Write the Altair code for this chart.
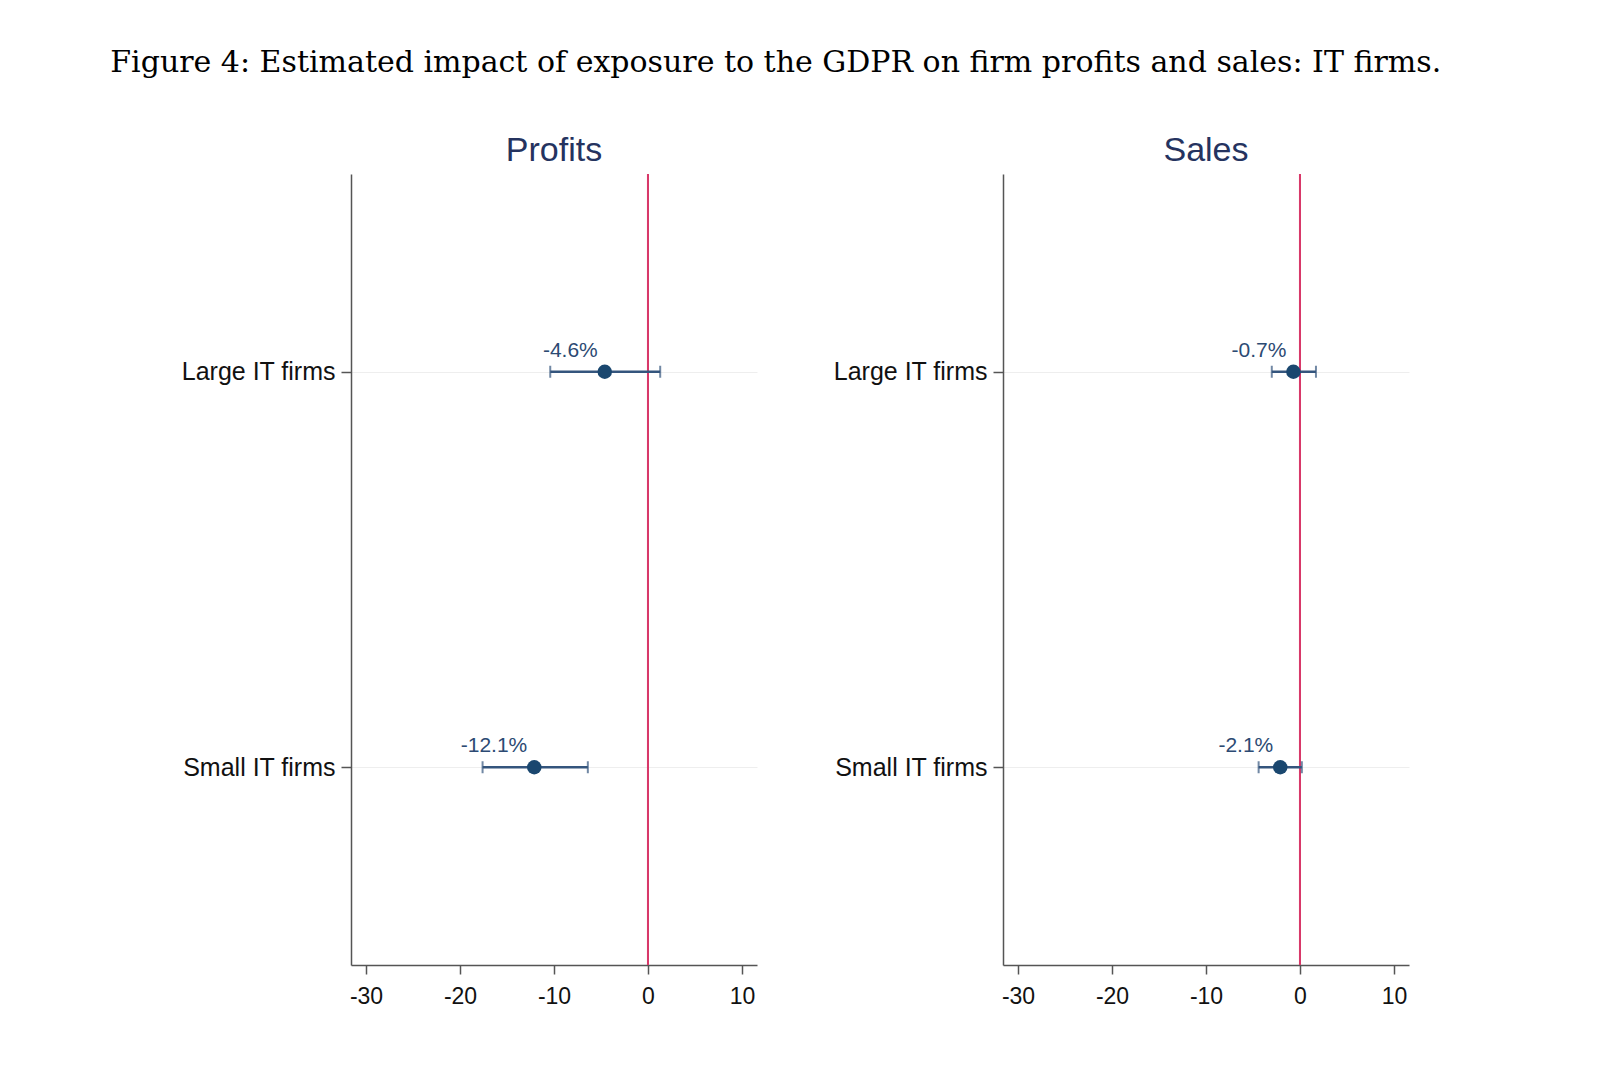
import altair as alt
import pandas as pd

caption = "Figure 4: Estimated impact of exposure to the GDPR on firm profits and sales: IT firms."
panels = ["Profits", "Profits", "Sales", "Sales"]
groups = ["Large IT firms", "Small IT firms", "Large IT firms", "Small IT firms"]
estimates = [-4.6, -12.1, -0.7, -2.1]
lower = [-10.4, -17.6, -3.0, -4.4]
upper = [1.3, -6.4, 1.7, 0.2]
labels = ["-4.6%", "-12.1%", "-0.7%", "-2.1%"]
x_ticks = [-30, -20, -10, 0, 10]
x_domain = [-31.6, 11.6]
group_order = ["Large IT firms", "Small IT firms"]

df = pd.DataFrame(dict(panel=panels, group=groups, est=estimates, lo=lower,
                       hi=upper, label=labels))

NAVY = "#1a476f"
BAR = "#34557d"
RED = "#d8396a"


def panel(name):
    d = df[df.panel == name]
    base = alt.Chart(d)
    xs = alt.Scale(domain=x_domain, nice=False, zero=False)
    ys = alt.Scale(type="point", padding=0.5, domain=group_order)
    xax = alt.Axis(values=x_ticks, title=None, grid=False,
                   labelExpr="'' + datum.value")
    yax = alt.Axis(title=None, grid=True)
    zero = base.mark_rule(color=RED, strokeWidth=2).encode(x=alt.datum(0, scale=xs))
    bars = base.mark_rule(color=BAR, strokeWidth=2.5).encode(
        x=alt.X("lo:Q", scale=xs, axis=xax), x2="hi:Q",
        y=alt.Y("group:N", scale=ys, axis=yax))
    cap_lo = base.mark_tick(color=BAR, thickness=2, size=12).encode(
        x=alt.X("lo:Q", scale=xs), y=alt.Y("group:N", scale=ys))
    cap_hi = base.mark_tick(color=BAR, thickness=2, size=12).encode(
        x=alt.X("hi:Q", scale=xs), y=alt.Y("group:N", scale=ys))
    pts = base.mark_circle(color=NAVY, size=210, opacity=1).encode(
        x=alt.X("est:Q", scale=xs), y=alt.Y("group:N", scale=ys))
    txt = base.mark_text(align="right", baseline="alphabetic", dx=-7, dy=-15,
                         fontSize=21, font="Liberation Sans", color="#2c4a73").encode(
        x=alt.X("est:Q", scale=xs), y=alt.Y("group:N", scale=ys), text="label:N")
    return alt.layer(zero, bars, cap_lo, cap_hi, pts, txt).properties(
        width=406, height=791,
        title=alt.TitleParams(name, fontSize=34, font="Liberation Sans",
                              color="#25335f", fontWeight="normal", offset=5))


chart = alt.hconcat(panel("Profits"), panel("Sales"), spacing=74).properties(
    title=alt.TitleParams(caption, anchor="start", font="DejaVu Serif", fontSize=30,
                          fontWeight="normal", color="#000000", dx=-70, offset=56,
                          frame="bounds"),
    padding={"left": 110, "top": 47, "right": 10, "bottom": 10},
    background="white",
).configure_view(stroke="transparent").configure_axis(
    domainColor="#555555", tickColor="#555555", labelColor="#111111",
    labelFont="Liberation Sans", gridColor="#eeeeee", domainWidth=1.5, tickWidth=1.5,
).configure_axisX(
    labelFontSize=23, tickSize=9, labelPadding=11,
).configure_axisY(
    labelFontSize=25, tickSize=10, labelPadding=6,
)

chart.save("out.html", embed_options={"renderer": "svg", "actions": False})
